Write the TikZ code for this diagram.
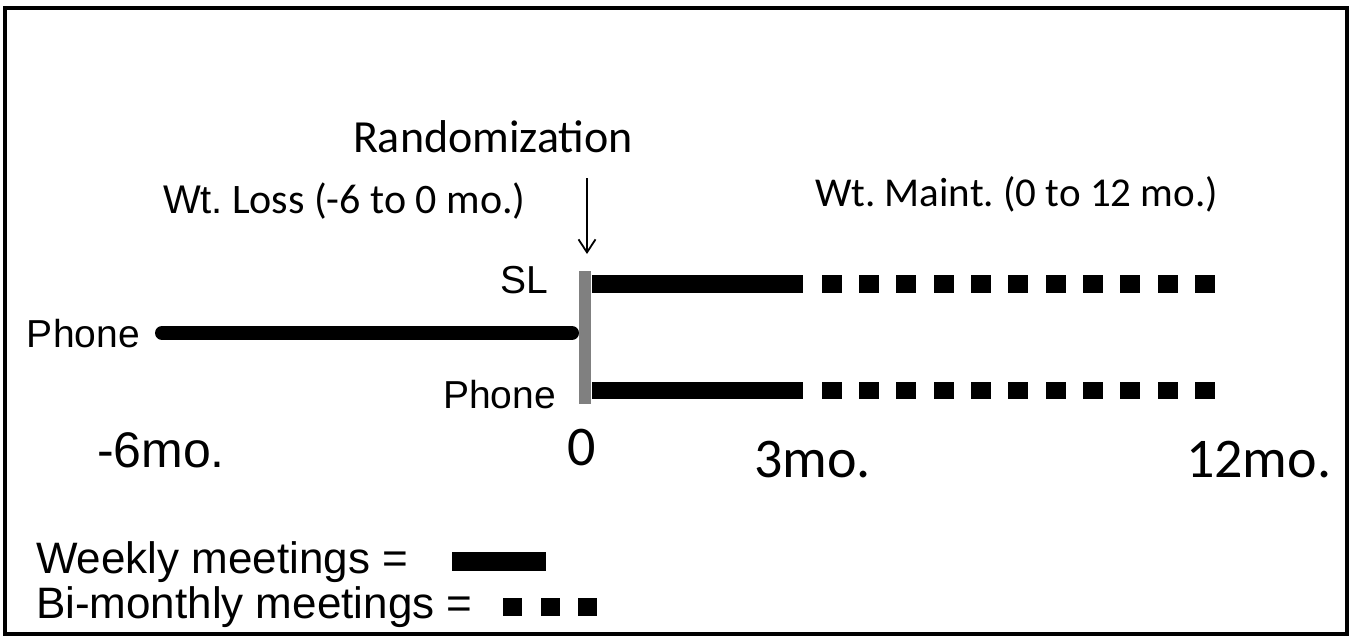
\documentclass[tikz,border=0pt]{standalone}
\usepackage{fontspec}
\setmainfont{Liberation Sans}
\newfontfamily\arialf{Liberation Sans}
\newfontfamily\calibf{Carlito}
\newcommand\myfs[1]{\fontsize{#1}{#1}\selectfont}
\usetikzlibrary{arrows.meta}
\definecolor{bargray}{RGB}{128,128,128}
\frenchspacing
\tikzset{
  lbl/.style={inner sep=0pt, outer sep=0pt},
  arl/.style={lbl, font=\arialf\myfs{39}},
  cal/.style={lbl, font=\calibf\myfs{41}},
  tick/.style={lbl, font=\calibf\myfs{56}},
  weekly/.style={fill=black, draw=none},
  bimonth/.style={fill=black, draw=none},
}
\begin{document}
\begin{tikzpicture}[x=1pt,y=-1pt]
\useasboundingbox (0,0) rectangle (1355,637);
% frame
\draw[line width=4pt] (5,8) rectangle (1347,634);

% titles
\node[lbl, font=\calibf\myfs{46}, anchor=base] (rand) at (493,152) {Randomization};
\node[lbl, font=\arialf\myfs{40}, anchor=base west] (wtA) at (163,213) {Wt.};
\node[cal, font=\calibf\myfs{42}, anchor=base west] (wtB) at (232,213) {Loss (-6 to 0 mo.)};
\node[cal, anchor=base west] (maint) at (815,206) {Wt. Maint. (0 to 12 mo.)};

% randomization arrow
\coordinate (arrS) at (587,178);
\coordinate (arrE) at (587,254);
\draw[line width=1.8pt, -{Straight Barb[length=13pt,width=17pt,line width=1.8pt]}] (arrS) -- (arrE);

% gray divider
\node[fill=bargray, draw=none, minimum width=12pt, minimum height=133pt, inner sep=0pt, anchor=north] (bar) at (585,271) {};

% loss phase line
\coordinate (lossS) at (162,333);
\coordinate (lossE) at (572,333);
\draw[line width=14pt, line cap=round] (lossS) -- (lossE);

% labels on the left
\node[arl, anchor=base west] (phoneL) at (27,347) {Phone};
\node[arl, anchor=base east] (sl) at (548,293) {SL};
\node[arl, anchor=base east] (phoneR) at (556,408) {Phone};

% maintenance arms
\fill[black] (592,275) rectangle (803,293);
\fill[black] (592,382) rectangle (803,399);
\foreach \k in {0,...,10}{
  \pgfmathsetmacro\xa{821.7+\k*37.33}
  \fill[black] (\xa,275) rectangle ++(20,18);
  \fill[black] (\xa,382) rectangle ++(20,17);
}

% time ticks
\node[lbl, font=\arialf\myfs{50}, anchor=base west] (m6) at (97,467) {-6mo.};
\node[tick, anchor=base west] (z0) at (567,465) {0};
\node[tick, anchor=base west] (m3) at (754,477) {3mo.};
\node[tick, anchor=base west] (m12) at (1186,477) {12mo.};

% legend
\node[lbl, font=\arialf\myfs{44}, anchor=base west] (legW) at (36,573) {Weekly meetings =};
\node[weekly, minimum width=94pt, minimum height=19pt, inner sep=0pt, anchor=west] (legWbar) at (452,561.5) {};
\node[lbl, font=\arialf\myfs{44}, anchor=base west] (legB) at (36,618) {Bi-monthly meetings =};
\foreach \xs in {503,541,578}{
  \fill[black] (\xs,598) rectangle ++(19,18);
}
\end{tikzpicture}
\end{document}
